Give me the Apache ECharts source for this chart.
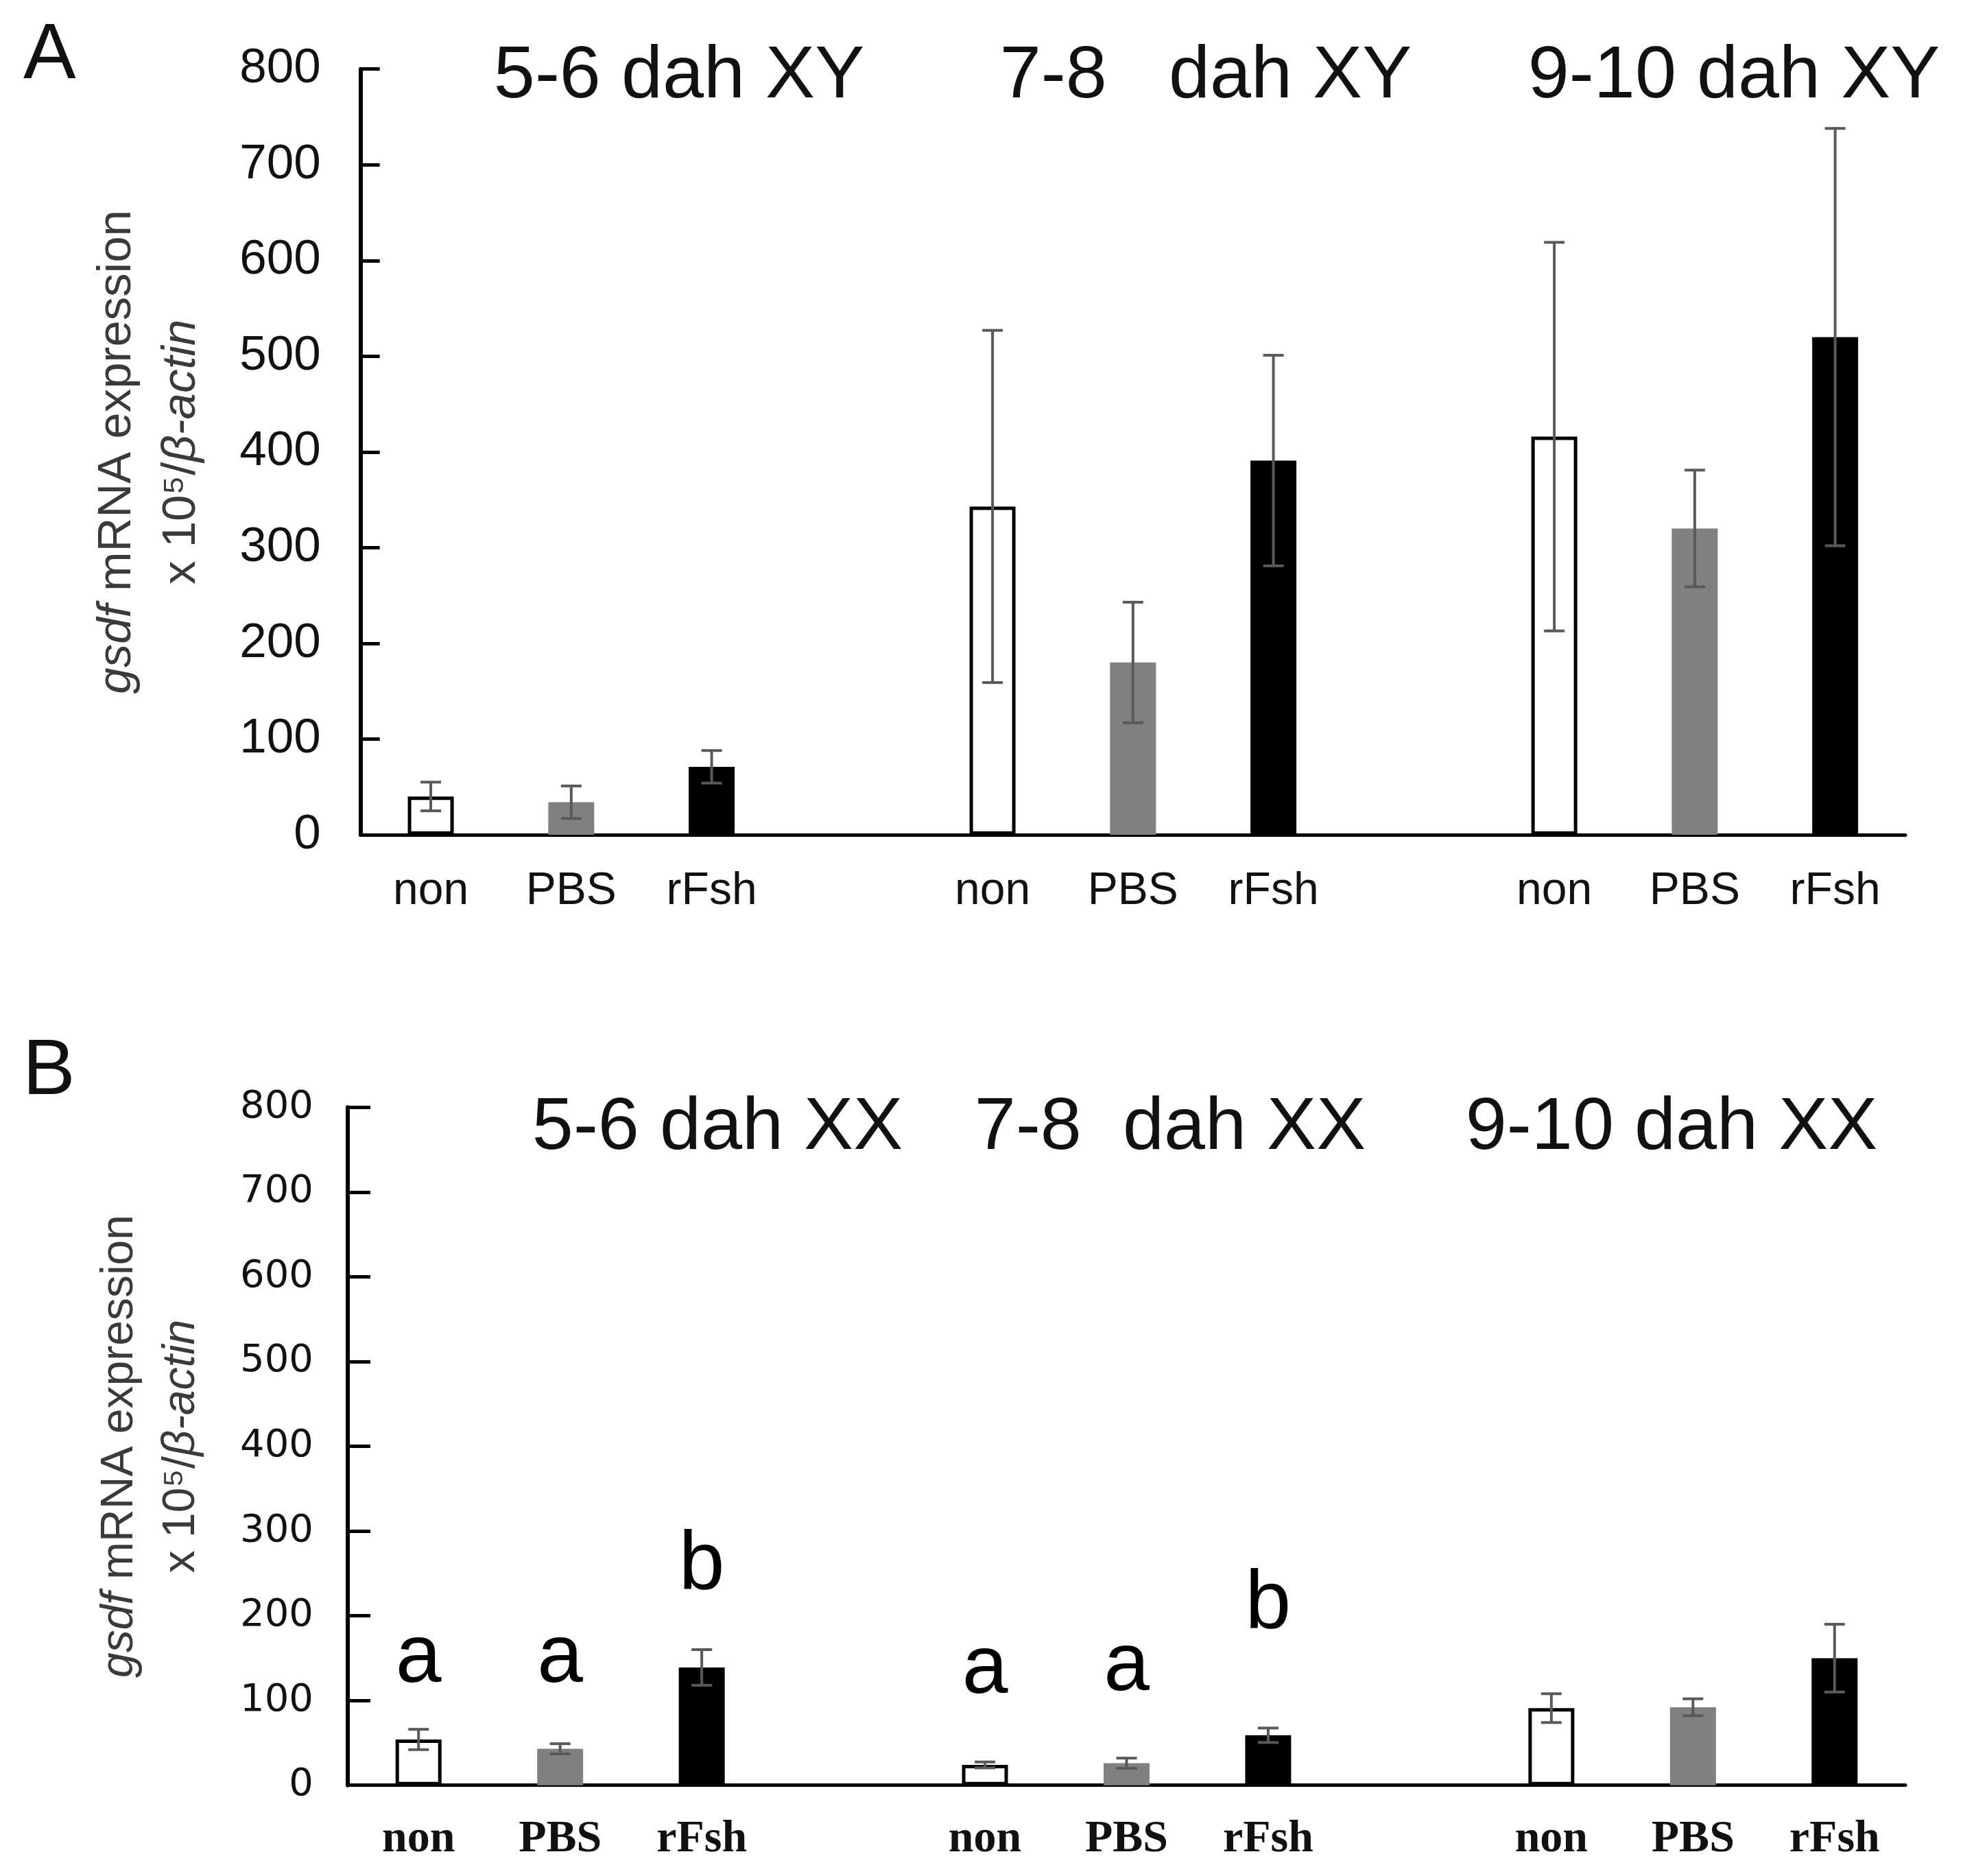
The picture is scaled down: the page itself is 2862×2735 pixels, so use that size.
<!DOCTYPE html>
<html>
<head>
<meta charset="utf-8">
<script src="https://cdn.jsdelivr.net/npm/echarts@6/dist/echarts.min.js"></script>
<style>
html,body{margin:0;padding:0;background:#fff;}
#c{width:2862px;height:2735px;}
</style>
</head>
<body>
<div id="c"></div>
<script>
// ---------- data ----------
const slots = ['non','PBS','rFsh','','non','PBS','rFsh','','non','PBS','rFsh'];
const xyMean = [40, 34, 71, null, 343, 180, 391, null, 416, 320, 520];
const xyErr  = [15, 17, 17, null, 184, 63, 110, null, 203, 61, 218];
const xxMean = [54, 43, 139, null, 24, 26, 59, null, 91, 92, 150];
const xxErr  = [12, 6, 21, null, 3.5, 6, 8.5, null, 17, 10, 40];
const xyTitles = ['5-6 dah XY', '7-8   dah XY', '9-10 dah XY'];
const xxTitles = ['5-6 dah XX', '7-8  dah XX', '9-10 dah XX'];
const letterSlots  = [0, 1, 2, 4, 5, 6];
const letterValues = [149, 149, 259, 136, 139, 213];
const letterTexts  = ['a', 'a', 'b', 'a', 'a', 'b'];
const panelLetters = ['A', 'B'];
const yMin = 0, yMax = 800, yStep = 100;

// ---------- styles ----------
const SANS = '"Liberation Sans", Arial, sans-serif';
const WIDE = '"DejaVu Sans", Verdana, sans-serif';
const SERIF = '"Liberation Serif", "Times New Roman", serif';
const fill = {non: {color:'#ffffff', borderColor:'#000000', borderWidth:5},
              PBS: {color:'#808080'},
              rFsh:{color:'#000000'}};
const errColor = '#595959';

function barData(means){
  return means.map((v,i)=> v==null ? null : {value:v, itemStyle: fill[slots[i]]});
}
function errData(means, errs){
  const out=[];
  means.forEach((v,i)=>{ if(v!=null) out.push([i, v, errs[i]]); });
  return out;
}
function renderErr(params, api){
  const x = api.value(0), m = api.value(1), e = api.value(2);
  const t = api.coord([x, m+e]), b = api.coord([x, m-e]);
  const hw = 15;
  const st = {stroke: errColor, lineWidth: 4};
  return {type:'group', children:[
    {type:'line', shape:{x1:t[0],y1:t[1],x2:b[0],y2:b[1]}, style:st},
    {type:'line', shape:{x1:t[0]-hw,y1:t[1],x2:t[0]+hw,y2:t[1]}, style:st},
    {type:'line', shape:{x1:b[0]-hw,y1:b[1],x2:b[0]+hw,y2:b[1]}, style:st}
  ]};
}
function yAxisCfg(gi, labelFont, fs, margin, tickLen, nameFs, nameLH, nameGap){
  return {
    type:'value', gridIndex:gi, min:yMin, max:yMax, interval:yStep,
    axisLine:{show:true, lineStyle:{color:'#000', width:6}},
    axisTick:{show:true, inside:true, length:tickLen, lineStyle:{color:'#000', width:5}},
    splitLine:{show:false},
    axisLabel:{fontSize:fs, color:'#111', margin:margin, fontFamily:labelFont},
    name:'{it|gsdf} mRNA expression\nx 10\u2075/{it|\u03b2-actin}',
    nameLocation:'middle', nameGap:nameGap, nameRotate:90,
    nameTextStyle:{fontSize:nameFs, color:'#3a3a3a', fontFamily:SANS, lineHeight:nameLH, align:'center',
      rich:{it:{fontStyle:'italic', fontSize:nameFs, color:'#3a3a3a', fontFamily:SANS, lineHeight:nameLH}}}
  };
}
function xAxisCfg(gi, font, fs, weight, margin){
  return {
    type:'category', gridIndex:gi, data:slots,
    axisLine:{show:true, onZero:false, lineStyle:{color:'#000', width:5}},
    axisTick:{show:false},
    axisLabel:{interval:0, fontSize:fs, fontWeight:weight, color:'#111', margin:margin, fontFamily:font},
    splitLine:{show:false}
  };
}
function titleText(txt, x, y, fs){
  return {type:'text', x:x, y:y, z:100,
    style:{text:txt, font:'normal '+fs+'px '+SANS, fill:'#111',
      align:'center', verticalAlign:'middle', textAlign:'center', textVerticalAlign:'middle'}};
}
const topTitleX = [990, 1758, 2528];
const botTitleX = [1046, 1706, 2437];

const graphics = [];
xyTitles.forEach((t,i)=>graphics.push(titleText(t, topTitleX[i], 112, 108)));
xxTitles.forEach((t,i)=>graphics.push(titleText(t, botTitleX[i], 1645, 108)));
graphics.push({type:'text', x:34, y:82, style:{text:panelLetters[0], font:'normal 115px '+SANS, fill:'#111',
  align:'left', verticalAlign:'middle', textAlign:'left', textVerticalAlign:'middle'}});
graphics.push({type:'text', x:33, y:1563, style:{text:panelLetters[1], font:'normal 115px '+SANS, fill:'#111',
  align:'left', verticalAlign:'middle', textAlign:'left', textVerticalAlign:'middle'}});

const chart = echarts.init(document.getElementById('c'), null, {renderer:'canvas'});
chart.setOption({
  backgroundColor:'#ffffff',
  animation:false,
  textStyle:{fontFamily:SANS},
  grid:[
    {left:525.7, top:100.7, width:2252.3, height:1116.3},
    {left:507, top:1614.3, width:2271, height:988.4}
  ],
  xAxis:[ xAxisCfg(0, SANS, 66, 'normal', 50), xAxisCfg(1, SERIF, 66, 'bold', 46) ],
  yAxis:[ yAxisCfg(0, SANS, 71, 58, 28, 69, 94, 214), yAxisCfg(1, WIDE, 56, 50, 33, 66, 90, 197) ],
  graphic: graphics,
  series:[
    {type:'bar', xAxisIndex:0, yAxisIndex:0, data:barData(xyMean), barWidth:67, z:2},
    {type:'custom', xAxisIndex:0, yAxisIndex:0, data:errData(xyMean, xyErr), renderItem:renderErr, z:5},
    {type:'bar', xAxisIndex:1, yAxisIndex:1, data:barData(xxMean), barWidth:67, z:2},
    {type:'custom', xAxisIndex:1, yAxisIndex:1, data:errData(xxMean, xxErr), renderItem:renderErr, z:5},
    {type:'scatter', xAxisIndex:1, yAxisIndex:1, symbolSize:0, itemStyle:{opacity:1},
     data: letterSlots.map((s,i)=>[s, letterValues[i], letterTexts[i]]),
     label:{show:true, position:'inside', formatter:(p)=>p.data[2], fontSize:120, color:'#000', opacity:1,
       textBorderWidth:0, fontFamily:SANS, align:'center', verticalAlign:'middle'}, z:6}
  ]
});
</script>
</body>
</html>
